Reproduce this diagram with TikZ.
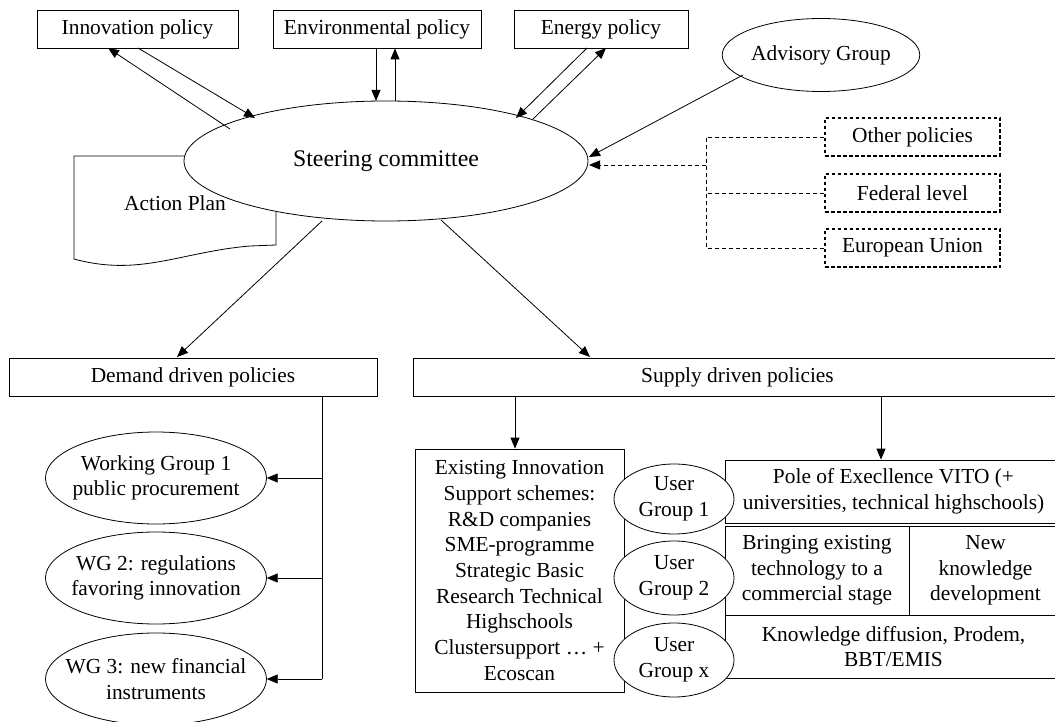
\documentclass[tikz,border=0pt]{standalone}
\usepackage{fontspec}
\setmainfont{Liberation Serif}
\usetikzlibrary{arrows.meta,shapes.geometric}
\begin{document}
\begin{tikzpicture}[x=1pt,y=-1pt,
 every node/.style={font=\fontsize{21.4}{25.7}\selectfont, inner sep=0pt, align=center},
 box/.style={draw, line width=0.8pt, rectangle, minimum height=38pt},
 ell/.style={draw, line width=0.8pt, ellipse, fill=white},
 wgarea/.style={rectangle, minimum width=221pt, minimum height=92pt},
 dbox/.style={draw, line width=1.5pt, dash pattern=on 3.5pt off 2.5pt, minimum width=175pt, minimum height=38pt},
 arr/.style={line width=0.8pt, -{Triangle[length=11pt,width=9pt]}},
 ln/.style={line width=0.8pt},
 dln/.style={line width=0.8pt, dash pattern=on 4pt off 3pt}]
\useasboundingbox (0,0) rectangle (1055,722);
\clip (0,0) rectangle (1055,722);

% top policy boxes
\node[box, minimum width=201pt] (inno) at (137.5,29) {Innovation policy};
\node[box, minimum width=208pt] (env) at (377,29) {Environmental policy};
\node[box, minimum width=174pt] (ener) at (601,29) {Energy policy};
\node[ell, minimum width=194pt, minimum height=73pt] (adv) at (821,55) {Advisory Group};

% action plan document shape
\draw[ln, fill=white] (74,156) -- (276,156) -- (276,245) -- (250,246)
  .. controls (180,252) and (140,277) .. (74,259) -- cycle;

% steering committee
\node[ell, minimum width=404pt, minimum height=120pt, font=\fontsize{23.8}{28}\selectfont] (steer) at (386,161) {Steering committee};
\node (plan) at (175,203) {Action Plan};

% dashed boxes
\node[dbox] (other) at (912.5,137) {Other policies};
\node[dbox] (fed) at (912.5,193) {Federal level};
\node[dbox] (eu) at (912.5,248) {European Union};

% demand / supply
\node[box, minimum width=368pt] (demand) at (193,377) {Demand driven policies};
\node[box, minimum width=649pt] (supply) at (737.5,377) {Supply driven policies};

% working groups (ellipse outline drawn separately so the text may touch it)
\node[wgarea] (wg1) at (156,478) {};
\node[wgarea] (wg2) at (156,578) {};
\node[wgarea] (wg3) at (156,679) {};
\draw[ln] (wg1.center) ellipse [x radius=110.5, y radius=46];
\draw[ln] (wg2.center) ellipse [x radius=110.5, y radius=46];
\draw[ln] (wg3.center) ellipse [x radius=110.5, y radius=46];
\node at (wg1.center) {Working Group 1\\public procurement};
\node at (wg2.center) {WG 2: regulations\\favoring innovation};
\node at (wg3.center) {WG 3: new financial\\instruments};

\node[box, minimum width=209pt, minimum height=243pt] (exist) at (519.5,570.5)
 {Existing Innovation\\Support schemes:\\R\&D companies\\SME-programme\\Strategic Basic\\Research Technical\\Highschools\\Clustersupport … +\\Ecoscan};
\node[box, minimum width=337pt, minimum height=63pt] (pole) at (893.5,491.5)
 {Pole of Execllence VITO (+\\universities, technical highschools)};
\node[box, minimum width=184pt, minimum height=89pt] (bring) at (817,570.5)
 {Bringing existing\\technology to a\\commercial stage};
\node[box, minimum width=153pt, minimum height=89pt] (newk) at (985.5,570.5)
 {New\\knowledge\\development};
\node[box, minimum width=337pt, minimum height=63pt] (diff) at (893.5,646.5)
 {Knowledge diffusion, Prodem,\\BBT/EMIS};

\node[ell, minimum width=120pt, minimum height=70pt] (ug1) at (674,499) {User\\Group 1};
\node[ell, minimum width=120pt, minimum height=74pt] (ug2) at (674,578) {User\\Group 2};
\node[ell, minimum width=120pt, minimum height=74pt] (ugx) at (674,660) {User\\Group x};

% connector coordinates
\coordinate (i1) at (230,129);
\coordinate (i2) at (255,118);
\coordinate (e1) at (376,101);
\coordinate (e2) at (395,101);
\coordinate (n1) at (516,118);
\coordinate (n2) at (533,119);
\coordinate (s1) at (322,221);
\coordinate (s2) at (441,220);
\coordinate (sd) at (589,165);
\coordinate (sa) at (589,157);
\coordinate (dj) at (706,165);
\coordinate (dt) at (706,137);
\coordinate (db) at (706,248);
\coordinate (dm) at (706,193);
\coordinate (vt) at (322,396);
\coordinate (vb) at (322,679);

% top arrows
\draw[arr] (i1) -- (108,48);
\draw[arr] (138,48) -- (i2);
\draw[arr] (env.south -| e1) -- (e1);
\draw[arr] (e2) -- (env.south -| e2);
\draw[arr] (587,48) -- (n1);
\draw[arr] (n2) -- (606,48);
\draw[arr] (743,75) -- (sa);

% dashed connectors
\draw[dln] (other.west) -- (dt) -- (db) -- (eu.west);
\draw[dln] (fed.west) -- (dm);
\draw[dln, -{Triangle[length=11pt,width=9pt]}] (dj) -- (sd);

% down arrows
\draw[arr] (s1) -- (177,357);
\draw[arr] (s2) -- (590,357);

% demand branch
\draw[ln] (vt) -- (vb);
\draw[arr] (vt |- wg1.east) -- (wg1.east);
\draw[arr] (vt |- wg2.east) -- (wg2.east);
\draw[arr] (vb) -- (wg3.east);

% supply branch
\draw[arr] (515,396) -- (exist.north -| 515,0);
\draw[arr] (881,396) -- (pole.north -| 881,0);
\end{tikzpicture}
\end{document}
